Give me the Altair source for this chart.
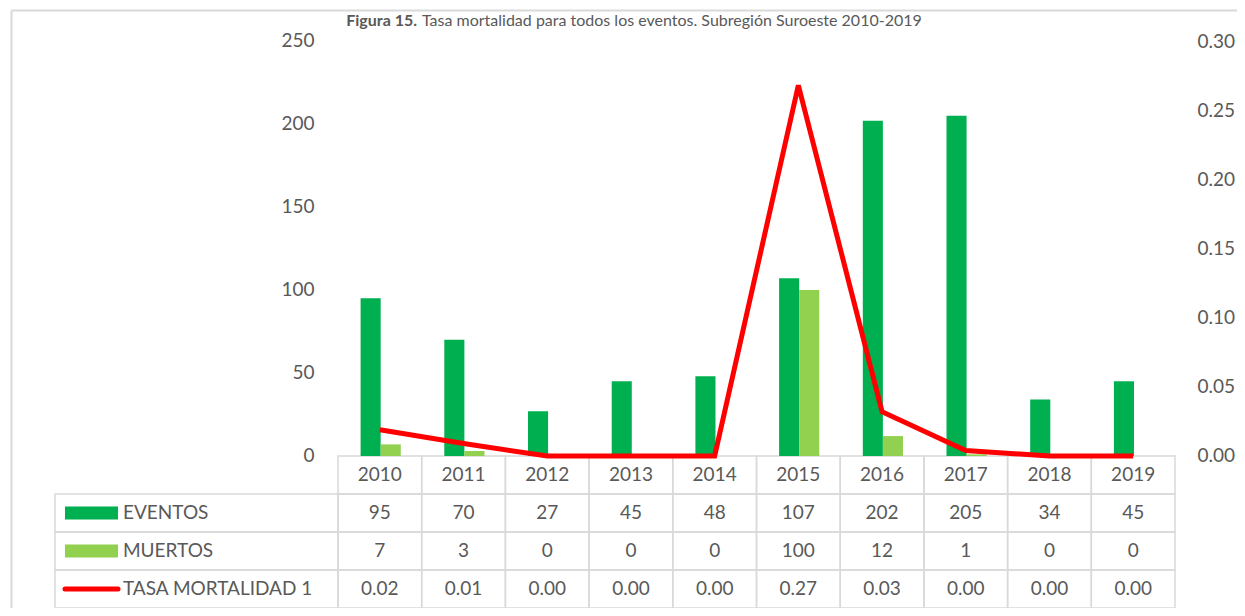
import altair as alt
import pandas as pd

# ---------------- data ----------------
years = [2010, 2011, 2012, 2013, 2014, 2015, 2016, 2017, 2018, 2019]
eventos = [95, 70, 27, 45, 48, 107, 202, 205, 34, 45]
muertos = [7, 3, 0, 0, 0, 100, 12, 1, 0, 0]
tasa = [0.019, 0.009, 0.0, 0.0, 0.0, 0.268, 0.032, 0.004, 0.0, 0.0]
tasa_labels = ["0.02", "0.01", "0.00", "0.00", "0.00", "0.27", "0.03", "0.00", "0.00", "0.00"]
series_names = ["EVENTOS", "MUERTOS", "TASA MORTALIDAD 1"]
series_colors = ["#00B050", "#92D050", "#FF0000"]
left_ticks = [0, 50, 100, 150, 200, 250]
right_ticks = [0.0, 0.05, 0.10, 0.15, 0.20, 0.25, 0.30]
title_bold = "Figura 15."
title_rest = "Tasa mortalidad para todos los eventos. Subregión Suroeste 2010-2019"

# ---------------- layout constants ----------------
FONT = "Lato"
GRAY = "#595959"
LINE_GRAY = "#d9d9d9"
FS = 19
W, H = 1226, 598
X_MIN, X_MAX = -3.9068, 10.7407          # x in table-column units
LEG_X0 = -3.381                           # left edge of legend column
SYM_X0, SYM_X1 = -3.262, -2.628           # legend symbol span
LEG_TX = -2.569                           # legend text start
SYM_HALF = 0.171

# ---------------- frames ----------------
n = len(years)
df = pd.DataFrame({
    "year": years,
    "idx": list(range(n)),
    "eventos": eventos,
    "muertos": muertos,
    "tasa": tasa,
})
df["e0"] = df["idx"] + 0.27
df["e1"] = df["idx"] + 0.51
df["m0"] = df["idx"] + 0.51
df["m1"] = df["idx"] + 0.75
df["xc"] = df["idx"] + 0.5
df["zero"] = 0

row_pos = [3, 2, 1, 0]  # header, EVENTOS, MUERTOS, TASA
cells = []
for i in range(n):
    vals = [str(years[i]), str(eventos[i]), str(muertos[i]), tasa_labels[i]]
    for r, v in zip(row_pos, vals):
        cells.append({"x0": i, "x1": i + 1, "y0": r, "y1": r + 1,
                      "xc": i + 0.5, "yc": r + 0.5, "label": v})
for r in row_pos[1:]:
    cells.append({"x0": LEG_X0, "x1": 0, "y0": r, "y1": r + 1,
                  "xc": None, "yc": None, "label": ""})
cells_df = pd.DataFrame(cells)
text_df = cells_df[cells_df["label"] != ""]

leg = pd.DataFrame({
    "name": series_names,
    "yc": [r + 0.5 for r in row_pos[1:]],
})
leg["ylo"] = leg["yc"] - SYM_HALF
leg["yhi"] = leg["yc"] + SYM_HALF
leg["sx0"] = SYM_X0
leg["sx1"] = SYM_X1
leg["tx"] = LEG_TX

# ---------------- scales / axes ----------------
xs = alt.Scale(domain=[X_MIN, X_MAX], nice=False, zero=False)
xaxis = alt.Axis(orient="top", domain=True, domainColor=LINE_GRAY, domainWidth=2,
                 labels=False, ticks=False, grid=False, title=None)

ys_bar = alt.Scale(domain=[-91.57, 268.67], nice=False, zero=False)
left_axis = alt.Axis(orient="left", offset=-327, values=left_ticks, domain=False,
                     ticks=False, grid=False, labelPadding=24, labelFontSize=FS,
                     labelColor=GRAY, labelFont=FONT, title=None)

ys_line = alt.Scale(domain=[-0.10988, 0.32241], nice=False, zero=False)
right_axis = alt.Axis(orient="right", offset=-40, values=right_ticks, format=".2f",
                      domain=False, ticks=False, grid=False, labelPadding=0,
                      labelFontSize=FS, labelColor=GRAY, labelFont=FONT, title=None)

ys_tab = alt.Scale(domain=[0, 15.737], nice=False, zero=False)
tab_axis = alt.Axis(orient="left", domain=True, domainColor=LINE_GRAY, domainWidth=2,
                    labels=False, ticks=False, grid=False, title=None)

color_scale = alt.Scale(domain=series_names, range=series_colors)

# ---------------- table layer ----------------
cell_rects = alt.Chart(cells_df).mark_rect(fillOpacity=0, stroke=LINE_GRAY, strokeWidth=1.5).encode(
    x=alt.X("x0:Q", scale=xs, axis=xaxis), x2="x1:Q",
    y=alt.Y("y0:Q", scale=ys_tab, axis=tab_axis), y2="y1:Q",
)
cell_text = alt.Chart(text_df).mark_text(font=FONT, fontSize=FS, color=GRAY,
                                         align="center", baseline="middle").encode(
    x=alt.X("xc:Q", scale=xs, axis=xaxis),
    y=alt.Y("yc:Q", scale=ys_tab, axis=tab_axis),
    text="label:N",
)
leg_rects = alt.Chart(leg[leg["name"] != "TASA MORTALIDAD 1"]).mark_rect().encode(
    x=alt.X("sx0:Q", scale=xs, axis=xaxis), x2="sx1:Q",
    y=alt.Y("ylo:Q", scale=ys_tab, axis=tab_axis), y2="yhi:Q",
    color=alt.Color("name:N", scale=color_scale, legend=None),
)
leg_line = alt.Chart(leg[leg["name"] == "TASA MORTALIDAD 1"]).mark_rule(
    strokeWidth=5, strokeCap="round").encode(
    x=alt.X("sx0:Q", scale=xs, axis=xaxis), x2="sx1:Q",
    y=alt.Y("yc:Q", scale=ys_tab, axis=tab_axis),
    color=alt.Color("name:N", scale=color_scale, legend=None),
)
leg_text = alt.Chart(leg).mark_text(font=FONT, fontSize=FS, color=GRAY,
                                    align="left", baseline="middle").encode(
    x=alt.X("tx:Q", scale=xs, axis=xaxis),
    y=alt.Y("yc:Q", scale=ys_tab, axis=tab_axis),
    text="name:N",
)
table_layer = alt.layer(cell_rects, cell_text, leg_rects, leg_line, leg_text)

# ---------------- bars ----------------
bars_e = alt.Chart(df).mark_rect(color=series_colors[0]).encode(
    x=alt.X("e0:Q", scale=xs, axis=xaxis), x2="e1:Q",
    y=alt.Y("eventos:Q", scale=ys_bar, axis=left_axis), y2="zero:Q",
)
bars_m = alt.Chart(df).mark_rect(color=series_colors[1]).encode(
    x=alt.X("m0:Q", scale=xs, axis=xaxis), x2="m1:Q",
    y=alt.Y("muertos:Q", scale=ys_bar, axis=left_axis), y2="zero:Q",
)
bar_layer = alt.layer(bars_e, bars_m)

# ---------------- line ----------------
line = alt.Chart(df).mark_line(color=series_colors[2], strokeWidth=5, strokeJoin="miter").encode(
    x=alt.X("xc:Q", scale=xs, axis=xaxis),
    y=alt.Y("tasa:Q", scale=ys_line, axis=right_axis),
)

# ---------------- title (two weights) ----------------
TFS = 16
title_df = pd.DataFrame({"bold": [title_bold], "rest": [title_rest]})
t_bold = alt.Chart(title_df).mark_text(font=FONT, fontSize=TFS, fontWeight="bold", color=GRAY,
                                       align="right", baseline="alphabetic").encode(
    x=alt.value(406), y=alt.value(16), text="bold:N")
t_rest = alt.Chart(title_df).mark_text(font=FONT, fontSize=TFS, color=GRAY,
                                       align="left", baseline="alphabetic").encode(
    x=alt.value(411), y=alt.value(16), text="rest:N")

chart = alt.layer(table_layer, bar_layer, line, t_bold, t_rest).resolve_scale(
    y="independent"
).resolve_axis(
    y="independent"
).properties(
    width=W, height=H,
    autosize=alt.AutoSizeParams(type="none"),
    padding={"left": 3, "top": 2, "right": 0, "bottom": 0},
    background="white",
).configure_view(stroke=None)

chart.save("out.html", embed_options={"renderer": "svg", "actions": False})
